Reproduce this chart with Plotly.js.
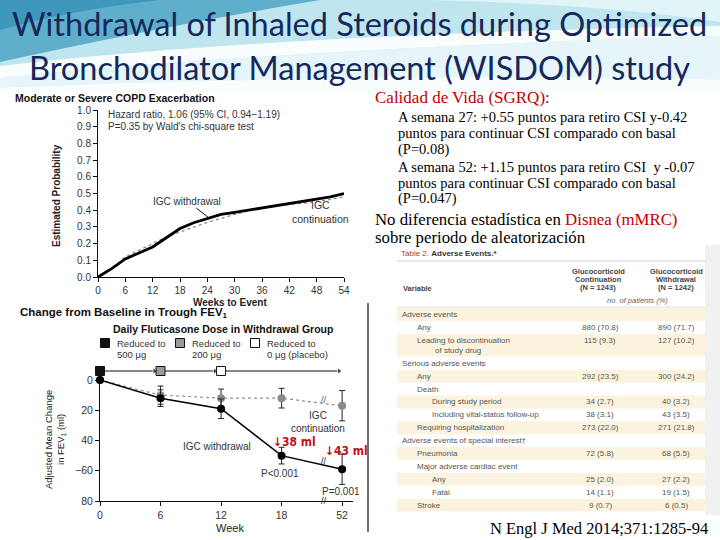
<!DOCTYPE html>
<html>
<head>
<meta charset="utf-8">
<script src="https://cdn.plot.ly/plotly-3.0.1.min.js"></script>
<style>html,body{margin:0;padding:0;background:#fff}#chart{width:720px;height:540px}</style>
</head>
<body>
<div id="chart"></div>
<script>
// ---------- DATA ----------
const slideTitle = ["Withdrawal of Inhaled Steroids during Optimized", "Bronchodilator Management (WISDOM) study"];

// Kaplan-Meier: moderate or severe COPD exacerbation
const kmWeeks = [0, 3, 6, 9, 12, 15, 18, 21, 24, 27, 30, 33, 36, 39, 42, 45, 48, 51, 54];
const kmWithdrawal = [0, 0.05, 0.108, 0.145, 0.18, 0.235, 0.29, 0.325, 0.35, 0.375, 0.387, 0.40, 0.415, 0.427, 0.44, 0.452, 0.467, 0.48, 0.50];
const kmContinuation = [0, 0.05, 0.12, 0.16, 0.20, 0.24, 0.27, 0.30, 0.327, 0.35, 0.375, 0.395, 0.41, 0.425, 0.435, 0.443, 0.45, 0.465, 0.48];
const kmTicksX = [0, 6, 12, 18, 24, 30, 36, 42, 48, 54];
const kmTicksY = [0, 0.1, 0.2, 0.3, 0.4, 0.5, 0.6, 0.7, 0.8, 0.9, 1.0];

// FEV1 change from baseline
const fevWeeks = ["0", "6", "12", "18", "52"];
const fevWithdrawal = [0, -12, -19, -50, -59];
const fevWithdrawalErr = [0, 5.5, 6.5, 5.5, 10];
const fevContinuation = [0, -10, -12, -12, -17];
const fevContinuationErr = [0, 6, 6, 6.5, 10];
const fevTickVals = [-80, -60, -40, -20, 0];
const fevTickText = ["80", "\u221260", "40", "20", "0"];
const doseWeekIndex = [0, 1, 2];
const doseArrowEnd = [0.9, 1.9, 3.95];
const doseLabels = ["Reduced to<br>500 \u03bcg", "Reduced to<br>200 \u03bcg", "Reduced to<br>0 \u03bcg (placebo)"];

// Table 2: adverse events
const aeVariables = ["Adverse events", "Any", "Leading to discontinuation<br>of study drug", "Serious adverse events", "Any", "Death",
  "During study period", "Including vital-status follow-up", "Requiring hospitalization", "Adverse events of special interest\u2020",
  "Pneumonia", "Major adverse cardiac event", "Any", "Fatal", "Stroke"];
const aeLevel = [0, 1, 1, 0, 1, 1, 2, 2, 1, 0, 1, 1, 2, 2, 1];
const aeContinuation = ["", "880 (70.8)", "115 (9.3)", "", "292 (23.5)", "", "34 (2.7)", "38 (3.1)", "273 (22.0)", "", "72 (5.8)", "", "25 (2.0)", "14 (1.1)", "9 (0.7)"];
const aeWithdrawal = ["", "890 (71.7)", "127 (10.2)", "", "300 (24.2)", "", "40 (3.2)", "43 (3.5)", "271 (21.8)", "", "68 (5.5)", "", "27 (2.2)", "19 (1.5)", "6 (0.5)"];
const aeHeaders = [["Glucocorticoid", "Continuation", "(N = 1243)"], ["Glucocorticoid", "Withdrawal", "(N = 1242)"]];

// ---------- HELPERS ----------
const W = 720, H = 540;
const px = x => x / W;
const py = y => 1 - y / H;
const sans = "Liberation Sans, Arial, sans-serif";
const serif = "Liberation Serif, Times New Roman, serif";
const annotations = [];
const shapes = [];
function txt(text, x, y, o) {
  o = o || {};
  annotations.push({
    text: text, x: px(x), y: py(y), xref: "paper", yref: "paper", showarrow: false,
    xanchor: o.xanchor || "left", yanchor: "middle", align: o.align || "left",
    textangle: o.angle || 0,
    font: {family: o.family || sans, size: o.size || 9, color: o.color || "#222", weight: o.weight || "normal", style: o.style || "normal"}
  });
}
function rect(x0, y0, x1, y1, fill, line, lw) {
  shapes.push({type: "rect", xref: "paper", yref: "paper", x0: px(x0), x1: px(x1), y0: py(y1), y1: py(y0),
    fillcolor: fill, line: {color: line || fill, width: lw == null ? 0 : lw}, layer: "below"});
}
function path(d, fill, opacity) {
  const conv = d.replace(/(-?\d+\.?\d*),(-?\d+\.?\d*)/g, (m, a, b) => px(+a).toFixed(5) + "," + py(+b).toFixed(5));
  shapes.push({type: "path", xref: "paper", yref: "paper", path: conv, fillcolor: fill, opacity: opacity == null ? 1 : opacity,
    line: {width: 0}, layer: "below"});
}
function hline(x0, x1, y, color, w) {
  shapes.push({type: "line", xref: "paper", yref: "paper", x0: px(x0), x1: px(x1), y0: py(y), y1: py(y), line: {color: color, width: w}, layer: "below"});
}

// ---------- BACKGROUND (title band) ----------
rect(0, 0, 720, 92, "#bfe5ee");
path("M0,0 L320,0 Q170,25 0,62 Z", "#4ea6c6", 0.85);
path("M0,0 L160,0 Q70,10 0,30 Z", "#2f8fb5", 0.7);
path("M430,0 L720,0 L720,22 Q600,4 430,0 Z", "#e4f6fa", 0.9);
path("M0,66 Q280,34 720,26 L720,36 Q300,48 0,78 Z", "#ffffff", 0.9);
path("M0,78 Q300,48 720,36 L720,92 L0,92 Z", "#e6f5f9", 1);
path("M0,92 L720,92 L720,80 Q400,72 0,88 Z", "#ffffff", 0.8);
txt(slideTitle[0], 359, 23, {xanchor: "center", size: 32.5, family: "Lato, sans-serif", color: "#14285a"});
txt(slideTitle[1], 359, 68, {xanchor: "center", size: 32.5, family: "Lato, sans-serif", color: "#14285a"});

// ---------- KM chart texts ----------
txt("<b>Moderate or Severe COPD Exacerbation</b>", 13, 98, {size: 10.5, color: "#111"});
txt("Hazard ratio, 1.06 (95% CI, 0.94\u22121.19)", 106, 114, {size: 10, color: "#333"});
txt("P=0.35 by Wald's chi-square test", 106, 126, {size: 10, color: "#333"});
txt("<b>Estimated Probability</b>", 57, 196, {xanchor: "center", angle: -90, size: 10, color: "#222"});
txt("<b>Weeks to Event</b>", 230, 302, {xanchor: "center", size: 10, color: "#222"});
txt("IGC<br>continuation", 320, 212, {xanchor: "center", align: "center", size: 10.5, color: "#333"});
annotations.push({text: "IGC withdrawal", xref: "x", yref: "y", x: 24.4, y: 0.353, ax: -22, ay: -17,
  showarrow: true, arrowhead: 0, arrowwidth: 1, arrowcolor: "#111", font: {family: sans, size: 10, color: "#333"}});

// ---------- FEV1 chart texts ----------
shapes.push({type: "line", xref: "paper", yref: "paper", x0: px(368), x1: px(368), y0: py(303), y1: py(532), line: {color: "#444", width: 1.5}});
txt("<b>Change from Baseline in Trough FEV<sub>1</sub></b>", 18, 313, {size: 11.5, color: "#111"});
txt("<b>Daily Fluticasone Dose in Withdrawal Group</b>", 223, 329, {xanchor: "center", size: 10.5, color: "#111"});
const legendX = [105, 180, 255];
const doseColors = ["#111111", "#9a9a9a", "#ffffff"];
doseLabels.forEach((lab, i) => {
  rect(legendX[i] - 4.5, 338.5, legendX[i] + 4.5, 347.5, doseColors[i], "#111", 1);
  lab.split("<br>").forEach((ln, k) => txt(ln, legendX[i] + 10, 343 + 11 * k, {size: 9.5, color: "#333"}));
});
txt("Adjusted Mean Change<br>in FEV<sub>1</sub> (ml)", 55, 440, {xanchor: "center", align: "center", angle: -90, size: 9.5, color: "#222"});
txt("Week", 230, 528, {xanchor: "center", size: 11, color: "#222"});
function dtxt(text, x, y, o) {
  annotations.push({text: text, xref: "x2", yref: "y2", x: x, y: y, showarrow: false, xanchor: o.xanchor || "center", yanchor: "middle",
    align: "center", font: {family: o.family || sans, size: o.size || 10, color: o.color || "#333", weight: o.weight || "normal"}});
}
dtxt("IGC<br>continuation", 3.6, -27.5, {});
dtxt("IGC withdrawal", 1.93, -44, {});
dtxt("\u219338 ml", 3.22, -40.8, {size: 12, color: "#c0121c", weight: "bold", family: "DejaVu Sans Condensed, DejaVu Sans, sans-serif"});
dtxt("\u219343 ml", 4.08, -46.7, {size: 12, color: "#c0121c", weight: "bold", family: "DejaVu Sans Condensed, DejaVu Sans, sans-serif"});
dtxt("P<0.001", 2.97, -62, {});
dtxt("P=0.001", 3.98, -74, {});
dtxt("//", 3.7, -53.5, {size: 9, color: "#222"});
dtxt("//", 3.7, -13, {size: 9, color: "#555"});
dtxt("//", 3.7, -80, {size: 9, color: "#222"});

// ---------- RIGHT TEXT ----------
const red = "#c00000";
txt("Calidad de Vida (SGRQ):", 373, 98, {family: serif, size: 17, color: red});
const sgrq = ["A semana 27: +0.55 puntos para retiro CSI y-0.42", "puntos para continuar CSI comparado con basal", "(P=0.08)",
  "A semana 52: +1.15 puntos para retiro CSI  y -0.07", "puntos para continuar CSI comparado con basal", "(P=0.047)"];
const sgrqY = [117, 133, 149, 167, 183, 199];
sgrq.forEach((s, i) => txt(s, 396, sgrqY[i], {family: serif, size: 14.5, color: "#000"}));
txt("No diferencia estad\u00edstica en <span style='color:" + red + "'>Disnea (mMRC)</span>", 373, 219, {family: serif, size: 16.8, color: "#000"});
txt("sobre periodo de aleatorizaci\u00f3n", 373, 237, {family: serif, size: 16.8, color: "#000"});
txt("N Engl J Med 2014;371:1285-94", 488, 528, {family: serif, size: 16.5, color: "#000"});

// ---------- TABLE ----------
const tL = 397, tR = 705;
rect(tR, 245, 720, 515, "#f1f1f1");
txt("<span style='color:#a8402e'>Table 2.</span> <b>Adverse Events.*</b>", 399, 254, {size: 8, color: "#333"});
hline(tL, tR, 261, "#d0d0d0", 1);
const colX = [598, 676];
aeHeaders.forEach((h, c) => h.forEach((line, k) => txt("<b>" + line + "</b>", colX[c], 271 + 8 * k, {xanchor: "center", size: 7.5, color: "#444"})));
txt("<b>Variable</b>", 401, 288, {size: 7.5, color: "#444"});
txt("<i>no. of patients (%)</i>", 637, 300, {xanchor: "center", size: 7.5, color: "#666"});
hline(tL, tR, 307, "#d8d8d8", 0.8);
const indentX = [400, 415, 430];
let rowTop = 308;
aeVariables.forEach((v, i) => {
  const lines = v.split("<br>");
  const h = lines.length > 1 ? 23 : 12.9;
  if (i % 2 === 0) rect(tL, rowTop, tR, rowTop + h, "#fcf3df");
  const y1 = lines.length > 1 ? rowTop + 6.3 : rowTop + h / 2;
  txt(lines[0], indentX[aeLevel[i]], y1, {size: 8, color: "#555"});
  if (lines.length > 1) txt(lines[1], indentX[aeLevel[i]] + 18, rowTop + 16.3, {size: 8, color: "#555"});
  if (aeContinuation[i]) txt(aeContinuation[i], colX[0] + 2, y1, {xanchor: "center", size: 8, color: "#555"});
  if (aeWithdrawal[i]) txt(aeWithdrawal[i], colX[1], y1, {xanchor: "center", size: 8, color: "#555"});
  rowTop += h;
});

// ---------- TRACES ----------
const fevIdx = fevWeeks.map((_, i) => i);
const traces = [
  {x: kmWeeks, y: kmContinuation, xaxis: "x", yaxis: "y", mode: "lines", line: {color: "#8a8a8a", width: 1.3, dash: "dot"}, hoverinfo: "skip"},
  {x: kmWeeks, y: kmWithdrawal, xaxis: "x", yaxis: "y", mode: "lines", line: {color: "#000", width: 2.8}, hoverinfo: "skip"},
  {x: fevIdx, y: fevContinuation, xaxis: "x2", yaxis: "y2", mode: "lines+markers", cliponaxis: false,
    line: {color: "#8f8f8f", width: 1.2, dash: "dot"}, marker: {color: "#8a8a8a", size: 8},
    error_y: {type: "data", array: fevContinuationErr, color: "#222", thickness: 1, width: 3}, hoverinfo: "skip"},
  {x: fevIdx, y: fevWithdrawal, xaxis: "x2", yaxis: "y2", mode: "lines+markers", cliponaxis: false,
    line: {color: "#000", width: 1.5}, marker: {color: "#000", size: 8},
    error_y: {type: "data", array: fevWithdrawalErr, color: "#222", thickness: 1, width: 3}, hoverinfo: "skip"}
];
doseWeekIndex.forEach((xi, i) => {
  traces.push({x: [xi, doseArrowEnd[i]], y: [0, 0], xaxis: "x2", yaxis: "y3", mode: "lines+markers", cliponaxis: false,
    line: {color: "#111", width: 1}, marker: {symbol: "triangle-right", size: [0, 6], color: "#111"}, hoverinfo: "skip"});
});
traces.push({x: doseWeekIndex, y: doseWeekIndex.map(() => 0), xaxis: "x2", yaxis: "y3", mode: "markers", cliponaxis: false,
  marker: {symbol: "square", size: 9, color: doseColors, line: {color: "#111", width: 1}}, hoverinfo: "skip"});

const axFont = {family: sans, size: 10, color: "#333"};
const layout = {
  width: W, height: H, margin: {l: 0, r: 0, t: 0, b: 0}, showlegend: false,
  paper_bgcolor: "#ffffff", plot_bgcolor: "rgba(0,0,0,0)",
  xaxis: {domain: [px(98), px(344)], range: [0, 54], tickvals: kmTicksX, showline: true, linecolor: "#111", linewidth: 1,
    ticks: "outside", ticklen: 4, tickcolor: "#111", showgrid: false, zeroline: false, tickfont: axFont, anchor: "y"},
  yaxis: {domain: [py(277), py(110)], range: [0, 1.0], tickvals: kmTicksY, tickformat: ".1f", showline: true, linecolor: "#111", linewidth: 1,
    ticks: "outside", ticklen: 4, tickcolor: "#111", showgrid: false, zeroline: false, tickfont: axFont, anchor: "x"},
  xaxis2: {domain: [px(100), px(353)], range: [0, 4.18], tickvals: fevIdx, ticktext: fevWeeks, showline: true, linecolor: "#111", linewidth: 1,
    ticks: "outside", ticklen: 4, tickcolor: "#111", showgrid: false, zeroline: false, tickfont: {family: sans, size: 10.5, color: "#333"}, anchor: "y2"},
  yaxis2: {domain: [py(501), py(380)], range: [-80, 0], tickvals: fevTickVals, ticktext: fevTickText, showline: true, linecolor: "#111", linewidth: 1,
    ticks: "outside", ticklen: 4, tickcolor: "#111", showgrid: false, zeroline: false, tickfont: {family: sans, size: 10.5, color: "#333"}, anchor: "x2"},
  yaxis3: {domain: [py(376), py(366)], range: [-1, 1], visible: false, anchor: "x2"},
  annotations: annotations, shapes: shapes
};
Plotly.newPlot("chart", traces, layout, {staticPlot: true, displayModeBar: false});
</script>
</body>
</html>
